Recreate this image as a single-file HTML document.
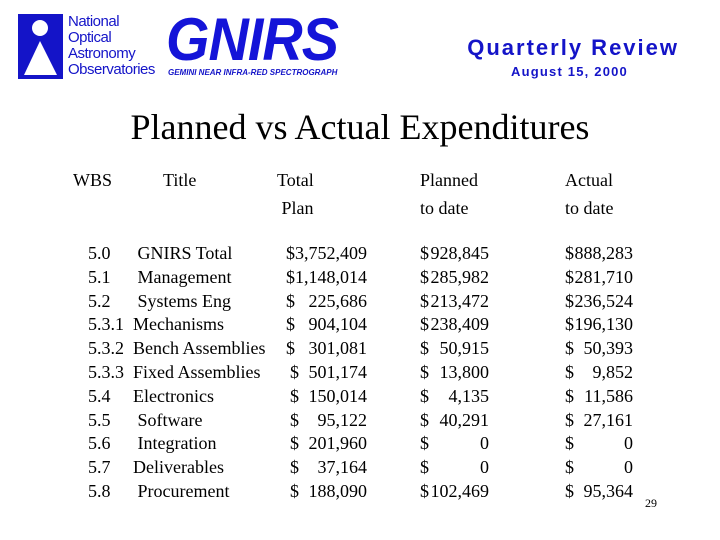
<!DOCTYPE html>
<html><head><meta charset="utf-8"><style>
body{margin:0;width:720px;height:540px;background:#fff;position:relative;overflow:hidden;font-family:"Liberation Serif",serif;}
.a{position:absolute;white-space:pre;line-height:1;}
.s{font-family:"Liberation Sans",sans-serif;}
.r{font-size:18px;color:#000;}
</style></head><body>
<div>
<svg class="a" style="left:18px;top:14px" width="45" height="65">
<rect width="45" height="65" fill="#1414c8"/>
<circle cx="22" cy="14" r="8" fill="#fff"/>
<polygon points="22,27 6,61 39,61" fill="#fff"/>
</svg>
<div class="a s" style="left:68px;top:14px;font-size:15px;color:#1414c8;line-height:16px;letter-spacing:-0.5px">National
Optical
Astronomy
Observatories</div>
</div>
<div class="a s" style="left:166px;top:10px;font-size:60px;font-weight:bold;font-style:italic;color:#1414d8;transform:scaleX(0.93);transform-origin:left;letter-spacing:-1px">GNIRS</div>
<div class="a s" style="left:168px;top:69px;font-size:8px;font-weight:bold;font-style:italic;color:#1414c8">GEMINI NEAR INFRA-RED SPECTROGRAPH</div>
<div class="a s" style="right:41px;top:37px;font-size:22px;font-weight:bold;color:#1414c8;letter-spacing:2px">Quarterly Review</div>
<div class="a s" style="right:92px;top:65px;font-size:13px;font-weight:bold;color:#1414c8;letter-spacing:1.2px">August 15, 2000</div>
<div class="a" style="left:0;width:720px;text-align:center;top:109px;font-size:36px">Planned vs Actual Expenditures</div>
<div class="a" style="left:73px;top:166px;font-size:18px;line-height:28px">WBS</div>
<div class="a" style="left:163px;top:166px;font-size:18px;line-height:28px">Title</div>
<div class="a" style="left:277px;top:166px;font-size:18px;line-height:28px">Total
 Plan</div>
<div class="a" style="left:420px;top:166px;font-size:18px;line-height:28px">Planned
to date</div>
<div class="a" style="left:565px;top:166px;font-size:18px;line-height:28px">Actual
to date</div>
<div id="rows"></div>
<div class="a" style="left:645px;top:497px;font-size:12px">29</div>
<script>
const wbs=["5.0","5.1","5.2","5.3.1","5.3.2","5.3.3","5.4","5.5","5.6","5.7","5.8"];
const titles=[" GNIRS Total"," Management"," Systems Eng","Mechanisms","Bench Assemblies","Fixed Assemblies","Electronics"," Software"," Integration","Deliverables"," Procurement"];
const totals=["3,752,409","1,148,014","225,686","904,104","301,081","501,174","150,014","95,122","201,960","37,164","188,090"];
const planned=["928,845","285,982","213,472","238,409","50,915","13,800","4,135","40,291","0","0","102,469"];
const actual=["888,283","281,710","236,524","196,130","50,393","9,852","11,586","27,161","0","0","95,364"];
const box=document.getElementById('rows');
function put(x,y,txt,name,right){
 const d=document.createElement('div');
 d.className='a r';
 
 
 d.style.top=y+'px';
 if(right){d.style.right=(720-x)+'px';}else{d.style.left=x+'px';}
 d.textContent=txt;box.appendChild(d);
}
wbs.forEach((w,i)=>{
 const y=244+i*23.8;
 put(88,y,w,'wbs-cell');
 put(133,y,titles[i],'title-cell');
 put(i<5?286:290,y,'$','total-dollar');
 put(367,y,totals[i],'total-cell',true);
 put(420,y,'$','planned-dollar');
 put(489,y,planned[i],'planned-cell',true);
 put(565,y,'$','actual-dollar');
 put(633,y,actual[i],'actual-cell',true);
});
</script>
</body></html>
